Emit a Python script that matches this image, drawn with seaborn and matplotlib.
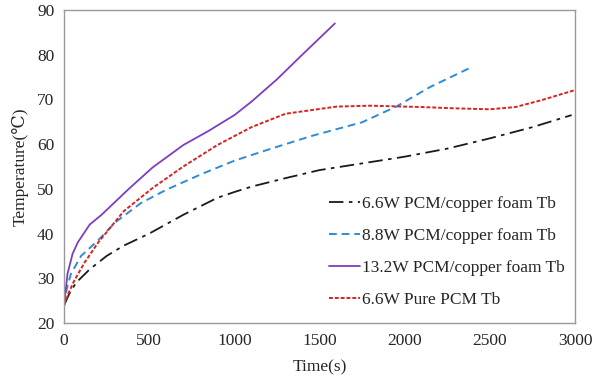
import numpy as np
import pandas as pd
import seaborn as sns
import matplotlib
matplotlib.use("Agg")
import matplotlib.pyplot as plt

# Datos (tiempo en s, temperatura en C)
t_cu66 = [0, 30, 70, 150, 250, 350, 500, 700, 900, 1000, 1100, 1300, 1500, 1750, 2000, 2250, 2500, 2750, 2980]
T_cu66 = [24, 26.5, 29, 32, 35, 37.3, 40, 44.2, 48, 49.3, 50.5, 52.4, 54.2, 55.7, 57.2, 59, 61.3, 63.8, 66.5]

t_cu88 = [0, 15, 40, 100, 200, 300, 450, 600, 800, 1000, 1200, 1450, 1750, 1950, 2150, 2380]
T_cu88 = [24, 27.5, 31, 35, 38.5, 42.5, 46.8, 49.8, 53.2, 56.3, 58.8, 61.8, 64.9, 68.4, 72.8, 77]

t_cu132 = [0, 20, 50, 80, 150, 220, 380, 520, 700, 850, 1000, 1100, 1250, 1390, 1590]
T_cu132 = [24, 31, 35.5, 38, 42, 44.2, 50, 54.8, 59.8, 63, 66.5, 69.5, 74.5, 79.7, 87]

t_pure = [0, 30, 60, 120, 200, 350, 520, 700, 900, 1100, 1300, 1600, 1800, 2100, 2300, 2500, 2650, 2800, 3000]
T_pure = [24, 27, 29.5, 33.5, 38, 45, 50.2, 55, 59.8, 63.8, 66.8, 68.4, 68.6, 68.3, 68, 67.8, 68.3, 69.8, 72.1]

etiquetas = ["6.6W PCM/copper foam Tb", "8.8W PCM/copper foam Tb",
             "13.2W PCM/copper foam Tb", "6.6W Pure PCM Tb"]

sns.set_style("white")
plt.rcParams['font.family'] = ['Liberation Serif', 'DejaVu Serif']

fig = plt.figure(figsize=(5.99, 3.78), dpi=100)
ax = fig.add_axes([0.107, 0.1455, 0.853, 0.828])

series = [
    (t_cu66, T_cu66, "#1a1a1a", (0, (8, 3, 2, 3)), 1.3),
    (t_cu88, T_cu88, "#2e8bd6", (0, (4, 2.5)), 1.4),
    (t_cu132, T_cu132, "#7b3fbf", "-", 1.3),
    (t_pure, T_pure, "#d62222", (0, (2, 1)), 1.4),
]
for (t, T, c, ls, lw), lab in zip(series, etiquetas):
    df = pd.DataFrame({"t": t, "T": T})
    sns.lineplot(data=df, x="t", y="T", color=c, linestyle=ls, linewidth=lw,
                 label=lab, ax=ax)

ax.set_xlim(0, 3000)
ax.set_ylim(20, 90)
ax.set_xticks(np.arange(0, 3001, 500))
ax.set_yticks(np.arange(20, 91, 10))
ax.tick_params(axis="both", direction="in", length=3, labelsize=12.5, color="#999999",
               pad=7)
ax.tick_params(axis="y", length=0)
for s in ax.spines.values():
    s.set_color("#999999")
    s.set_linewidth(1.0)

ax.set_xlabel("Time(s)", fontsize=12.5, labelpad=8)
ax.set_ylabel("Temperature(℃)", fontsize=12.5, labelpad=6)

leg = ax.legend(loc="lower right", bbox_to_anchor=(1.0, 0.016), frameon=False,
                fontsize=12.5, handlelength=1.8, handletextpad=0.1,
                labelspacing=0.9, borderaxespad=0.2)

fig.savefig("out.png", dpi=100)
